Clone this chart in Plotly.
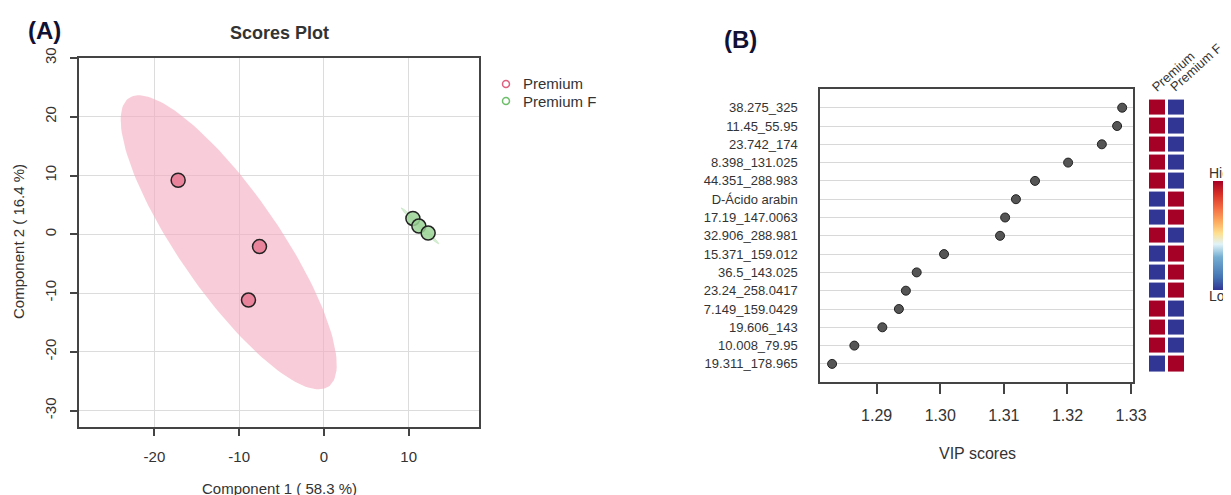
import numpy as np
import plotly.graph_objects as go

# page offset (browser body margin) compensated so that the figure lands on the reference grid
OFF = 8
W, H = 1231 - OFF, 495 - OFF

# ---------------- Data ----------------
# Scores plot (PLS-DA)
premium_x = [-17.2, -7.6, -8.9]
premium_y = [9.2, -2.1, -11.2]
premiumf_x = [10.5, 11.2, 12.3]
premiumf_y = [2.7, 1.4, 0.2]
score_ticks_x = [-20, -10, 0, 10]
score_ticks_y = [-30, -20, -10, 0, 10, 20, 30]

# VIP scores
vip_features = ["38.275_325", "11.45_55.95", "23.742_174", "8.398_131.025",
                "44.351_288.983", "D-Ácido arabin", "17.19_147.0063",
                "32.906_288.981", "15.371_159.012", "36.5_143.025",
                "23.24_258.0417", "7.149_159.0429", "19.606_143",
                "10.008_79.95", "19.311_178.965"]
vip_scores = [1.3286, 1.3278, 1.3254, 1.3201, 1.3149, 1.3119, 1.3102,
              1.3094, 1.3006, 1.2963, 1.2946, 1.2935, 1.2909, 1.2865, 1.2830]
vip_ticks = [1.29, 1.30, 1.31, 1.32, 1.33]
groups = ["Premium", "Premium F"]
premium_level = [1, 1, 1, 1, 1, 0, 0, 1, 0, 0, 0, 1, 1, 1, 0]
premiumf_level = [0, 0, 0, 0, 0, 1, 1, 0, 1, 1, 1, 0, 0, 0, 1]

FONT = "Liberation Sans, Arial, sans-serif"
TXT = "#333333"


def px(x):
    return (x - OFF) / W


def py(y):
    return 1 - (y - OFF) / H


def conf_ellipse(xs, ys, n=160):
    pts = np.column_stack([xs, ys])
    mu = pts.mean(axis=0)
    cov = np.cov(pts.T)
    vals, vecs = np.linalg.eigh(cov)
    k = np.sqrt(5.991)  # 95% chi-square, 2 df
    t = np.linspace(0, 2 * np.pi, n)
    circ = np.column_stack([np.cos(t), np.sin(t)]) * np.sqrt(np.maximum(vals, 1e-9)) * k
    e = circ @ vecs.T + mu
    return e[:, 0], e[:, 1]


fig = go.Figure()

# ---- Panel A ----
ex, ey = conf_ellipse(premium_x, premium_y)
fig.add_trace(go.Scatter(x=ex, y=ey, fill="toself", mode="lines",
                         line=dict(width=0), fillcolor="rgba(244,170,190,0.6)",
                         hoverinfo="skip", showlegend=False, xaxis="x", yaxis="y"))
fx_, fy_ = conf_ellipse(premiumf_x, premiumf_y)
fig.add_trace(go.Scatter(x=fx_, y=fy_, fill="toself", mode="lines",
                         line=dict(width=0.5, color="rgba(150,210,145,0.6)"),
                         fillcolor="rgba(170,220,165,0.45)",
                         hoverinfo="skip", showlegend=False, xaxis="x", yaxis="y"))
fig.add_trace(go.Scatter(x=premium_x, y=premium_y, mode="markers",
                         marker=dict(size=14, color="#E8839B", line=dict(color="#222", width=1.5)),
                         showlegend=False, xaxis="x", yaxis="y"))
fig.add_trace(go.Scatter(x=premiumf_x, y=premiumf_y, mode="markers",
                         marker=dict(size=14, color="rgba(155,212,150,0.85)", line=dict(color="#222", width=1.5)),
                         showlegend=False, xaxis="x", yaxis="y"))

# ---- Panel B: VIP dot plot ----
fig.add_trace(go.Scatter(x=vip_scores, y=vip_features, mode="markers",
                         marker=dict(size=9, color="#555555", line=dict(color="#222", width=1)),
                         showlegend=False, xaxis="x2", yaxis="y2"))

# ---- Panel B: heatmap ----
z = [[p, f] for p, f in zip(premium_level, premiumf_level)]
cscale = [[0.0, "#313695"], [0.12, "#4575b4"], [0.3, "#74add1"], [0.42, "#e0f3f8"],
          [0.52, "#fee090"], [0.62, "#fdae61"], [0.75, "#f46d43"], [0.88, "#d73027"],
          [1.0, "#a50026"]]
fig.add_trace(go.Heatmap(z=z, x=groups, y=vip_features, colorscale=cscale,
                         zmin=0, zmax=1, xgap=3, ygap=3, xaxis="x3", yaxis="y3",
                         colorbar=dict(x=px(1213), xanchor="left", y=py(235.5), yanchor="middle",
                                       len=109, lenmode="pixels", thickness=13,
                                       thicknessmode="pixels", showticklabels=False,
                                       ticks="", outlinewidth=0, xpad=0, ypad=0)))

row0 = 107.7
rowstep = 18.3
ytop = 89
ybot = 382
yr = [(ybot - row0) / rowstep, (ytop - row0) / rowstep]

fig.update_layout(
    width=W, height=H, autosize=False,
    margin=dict(l=0, r=0, t=0, b=0, autoexpand=False),
    paper_bgcolor="white", plot_bgcolor="white",
    font=dict(family=FONT, color=TXT),
    xaxis=dict(domain=[px(79), px(479)], range=[-28.9, 18.3], tickvals=score_ticks_x,
               ticktext=[str(v) for v in score_ticks_x],
               showgrid=True, gridcolor="#dcdcdc", gridwidth=1, zeroline=False,
               showline=True, mirror=True, linecolor="#444", linewidth=1.5,
               ticks="outside", ticklen=7, tickcolor="#444", tickwidth=1.5,
               tickfont=dict(size=15, color=TXT), ticklabelstandoff=8, anchor="y",
               automargin=False),
    yaxis=dict(domain=[py(427), py(58)], range=[-32.8, 30.0], tickvals=score_ticks_y,
               ticktext=[str(v) for v in score_ticks_y],
               showgrid=True, gridcolor="#dcdcdc", gridwidth=1, zeroline=False,
               showline=True, mirror=True, linecolor="#444", linewidth=1.5,
               ticks="outside", ticklen=7, tickcolor="#444", tickwidth=1.5,
               tickangle=-90, tickfont=dict(size=15, color=TXT), ticklabelstandoff=8,
               anchor="x", automargin=False),
    xaxis2=dict(domain=[px(820), px(1133)], range=[1.2811, 1.3303], tickvals=vip_ticks,
                ticktext=[f"{v:.2f}" for v in vip_ticks],
                showgrid=False, zeroline=False, showline=True, mirror=True,
                linecolor="#444", linewidth=1.5, ticks="outside", ticklen=10,
                tickcolor="#444", tickwidth=1.5, tickfont=dict(size=16, color=TXT),
                ticklabelstandoff=8, anchor="y2", automargin=False),
    yaxis2=dict(domain=[py(ybot), py(ytop)], range=yr, type="category",
                categoryorder="array", categoryarray=vip_features,
                showgrid=True, gridcolor="#d8d8d8", gridwidth=1, zeroline=False,
                showline=True, mirror=True, linecolor="#444", linewidth=1.5,
                ticks="", tickfont=dict(size=13, color=TXT), ticklabelstandoff=18,
                anchor="x2", automargin=False),
    xaxis3=dict(domain=[px(1148), px(1186)], range=[-0.5, 1.5],
                showticklabels=False, ticks="", showline=False, showgrid=False,
                zeroline=False, anchor="y3", automargin=False),
    yaxis3=dict(domain=[py(ybot), py(ytop)], range=yr, type="category",
                categoryorder="array", categoryarray=vip_features,
                showticklabels=False, showgrid=False, zeroline=False, showline=False,
                anchor="x3", automargin=False),
)

ann = [
    dict(text="<b>(A)</b>", x=px(44), y=py(30), font=dict(size=24, color="#111133")),
    dict(text="<b>(B)</b>", x=px(740), y=py(40), font=dict(size=24, color="#111133")),
    dict(text="<b>Scores Plot</b>", x=px(279), y=py(33), font=dict(size=18, color=TXT)),
    dict(text="Component 1 ( 58.3 %)", x=px(279), y=py(488), font=dict(size=15, color=TXT)),
    dict(text="Component 2 ( 16.4 %)", x=px(18), y=py(242), textangle=-90,
         font=dict(size=15, color=TXT)),
    dict(text="VIP scores", x=px(977), y=py(453), font=dict(size=16, color=TXT)),
    dict(text="Premium", x=px(521), y=py(84), xanchor="left", font=dict(size=15, color=TXT)),
    dict(text="Premium F", x=px(521), y=py(101), xanchor="left", font=dict(size=15, color=TXT)),
    dict(text="High", x=px(1207), y=py(173), xanchor="left", font=dict(size=14, color=TXT)),
    dict(text="Low", x=px(1207), y=py(296), xanchor="left", font=dict(size=14, color=TXT)),
]
for a in ann:
    a.setdefault("xanchor", "center")
    a.update(xref="paper", yref="paper", yanchor="middle", showarrow=False)

# rotated group labels above heatmap columns
col_label_left = [1146, 1164]
for g, xl in zip(groups, col_label_left):
    ann.append(dict(text=g, x=px(xl), y=py(97), xref="paper", yref="paper",
                    xanchor="left", yanchor="bottom", textangle=-42, showarrow=False,
                    font=dict(size=13, color=TXT)))
fig.update_layout(annotations=ann)

shapes = [
    dict(type="circle", xref="paper", yref="paper",
         x0=px(502.5), x1=px(509.5), y0=py(87.5), y1=py(80.5),
         line=dict(color="#E0607F", width=1.5)),
    dict(type="circle", xref="paper", yref="paper",
         x0=px(502.5), x1=px(509.5), y0=py(104.5), y1=py(97.5),
         line=dict(color="#6DBF6A", width=1.5)),
]
fig.update_layout(shapes=shapes)

fig.write_html("out.html")
